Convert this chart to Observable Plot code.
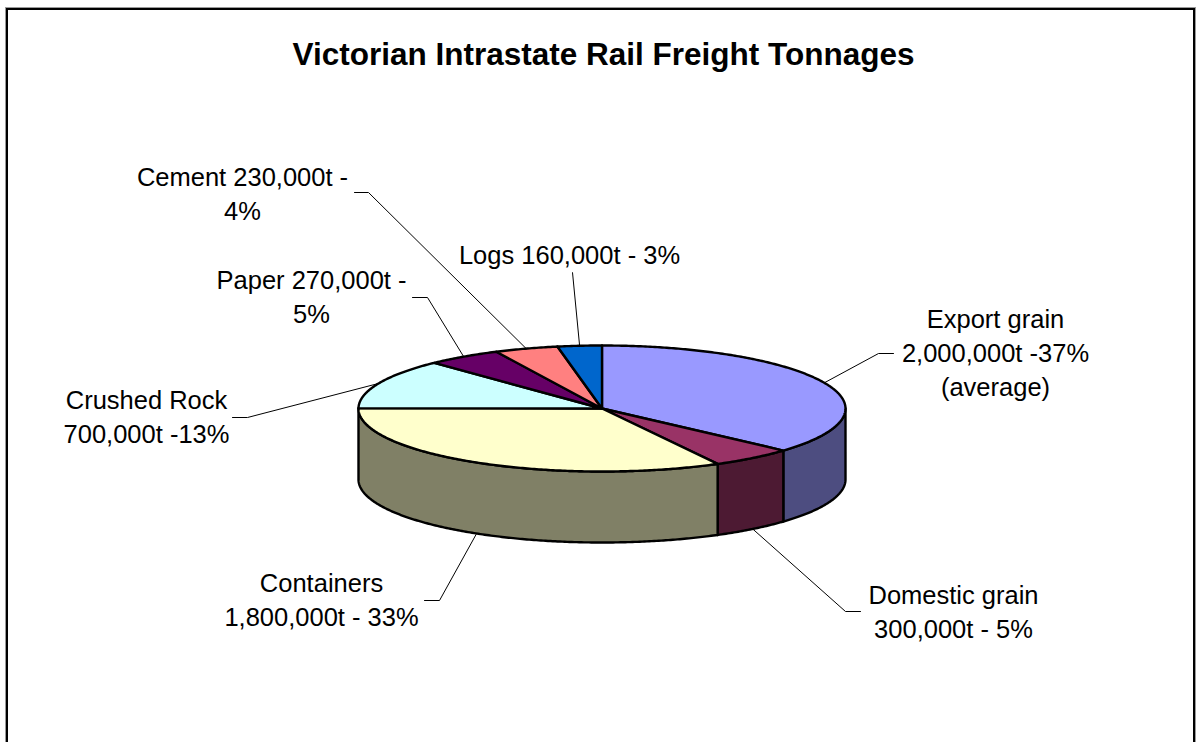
<!DOCTYPE html>
<html><head><meta charset="utf-8">
<script src="https://cdn.jsdelivr.net/npm/d3@7"></script>
<script src="https://cdn.jsdelivr.net/npm/@observablehq/plot@0.6"></script>
<style>
html,body{margin:0;padding:0;background:#fff;}
#wrap{position:relative;width:1196px;height:742px;overflow:hidden;background:#fff;}
#border{position:absolute;left:6px;top:8px;width:1185px;height:800px;border:2px solid #000;box-shadow:0 0 0 1px #9a9a9a;}
#chart{position:absolute;left:0;top:0;}
</style></head>
<body><div id="wrap"><div id="border"></div><div id="chart"></div></div>
<script>
// ---- data ----
const title = "Victorian Intrastate Rail Freight Tonnages";
const categories = ["Export grain", "Domestic grain", "Containers", "Crushed Rock", "Paper", "Cement", "Logs"];
const tonnes = [2000000, 300000, 1800000, 700000, 270000, 230000, 160000];
const labelTexts = [
  "Export grain\n2,000,000t -37%\n(average)",
  "Domestic grain\n300,000t - 5%",
  "Containers\n1,800,000t - 33%",
  "Crushed Rock\n700,000t -13%",
  "Paper 270,000t -\n5%",
  "Cement 230,000t -\n4%",
  "Logs 160,000t - 3%"
];

// ---- styles ----
const topColors = ["#9999FF", "#993366", "#FFFFCC", "#CCFFFF", "#660066", "#FF8080", "#0066CC"];
const sideColors = ["#4D4D80", "#4D1A33", "#808066", "#668080", "#330033", "#804040", "#003366"];

// ---- layout (pixels) ----
const pie = {cx: 601.5, cy: 408, rx: 243.5, ry: 63, depth: 71};
const labelPos = [[995, 351], [953, 610], [321, 598], [146, 415], [311, 295], [242, 192], [569, 253]];
const leaderStart = [[893, 353], [860, 611], [424, 600], [232, 417], [412, 297], [354, 192], [572, 272]];
const leaderElbow = [[878, 353], [845, 611], [439, 600], [247, 417], [427, 297], [368, 192], [572, 272]];

const FONT = "'Liberation Sans', Arial, Helvetica, sans-serif";

// geometry from data
const arcs = d3.pie().sort(null).value(d => d)(tonnes);
const pt = (a, dz = 0) => ({x: pie.cx + pie.rx * Math.sin(a), y: pie.cy - pie.ry * Math.cos(a) + dz});
function arcPts(a0, a1, dz) {
  const n = Math.max(2, Math.ceil(Math.abs(a1 - a0) / 0.01));
  return d3.range(n + 1).map(i => pt(a0 + (a1 - a0) * i / n, dz));
}

const sidePolys = [];
const topPolys = [];
arcs.forEach((a, i) => {
  const s = Math.max(a.startAngle, Math.PI / 2), e = Math.min(a.endAngle, 3 * Math.PI / 2);
  if (e > s) {
    const pts = [...arcPts(s, e, 0), ...arcPts(e, s, pie.depth)];
    pts.forEach(p => sidePolys.push({...p, key: categories[i], fill: sideColors[i]}));
  }
  const pts = [{x: pie.cx, y: pie.cy}, ...arcPts(a.startAngle, a.endAngle, 0)];
  pts.forEach(p => topPolys.push({...p, key: categories[i], fill: topColors[i]}));
});

const leaders = [];
arcs.forEach((a, i) => {
  const m = (a.startAngle + a.endAngle) / 2;
  const front = m > Math.PI / 2 && m < 3 * Math.PI / 2;
  const end = pt(m, front ? pie.depth : 0);
  leaders.push({x: leaderStart[i][0], y: leaderStart[i][1], key: categories[i]});
  leaders.push({x: leaderElbow[i][0], y: leaderElbow[i][1], key: categories[i]});
  leaders.push({x: end.x, y: end.y, key: categories[i]});
});

const labels = categories.map((c, i) => ({x: labelPos[i][0], y: labelPos[i][1], text: labelTexts[i]}));

const chart = Plot.plot({
  width: 1196,
  height: 742,
  margin: 0,
  x: {type: "identity", axis: null},
  y: {type: "identity", axis: null},
  color: {type: "identity"},
  style: {fontFamily: FONT, background: "transparent", overflow: "visible"},
  marks: [
    Plot.line(sidePolys, {x: "x", y: "y", z: "key", fill: "fill", stroke: "#000", strokeWidth: 2.4, strokeLinejoin: "round", curve: "linear-closed"}),
    Plot.line(topPolys, {x: "x", y: "y", z: "key", fill: "fill", stroke: "#000", strokeWidth: 2.4, strokeLinejoin: "round", curve: "linear-closed"}),
    Plot.line(leaders, {x: "x", y: "y", z: "key", stroke: "#000", strokeWidth: 1}),
    Plot.text(labels, {x: "x", y: "y", text: "text", fontSize: 25.5, lineHeight: 1.33, lineAnchor: "middle", textAnchor: "middle", fill: "#000"}),
    Plot.text([title], {frameAnchor: "top", lineAnchor: "top", dy: 42, dx: 5, fontSize: 31.5, fontWeight: "bold", fill: "#000"})
  ]
});
document.getElementById("chart").appendChild(chart);
</script>
</body></html>
